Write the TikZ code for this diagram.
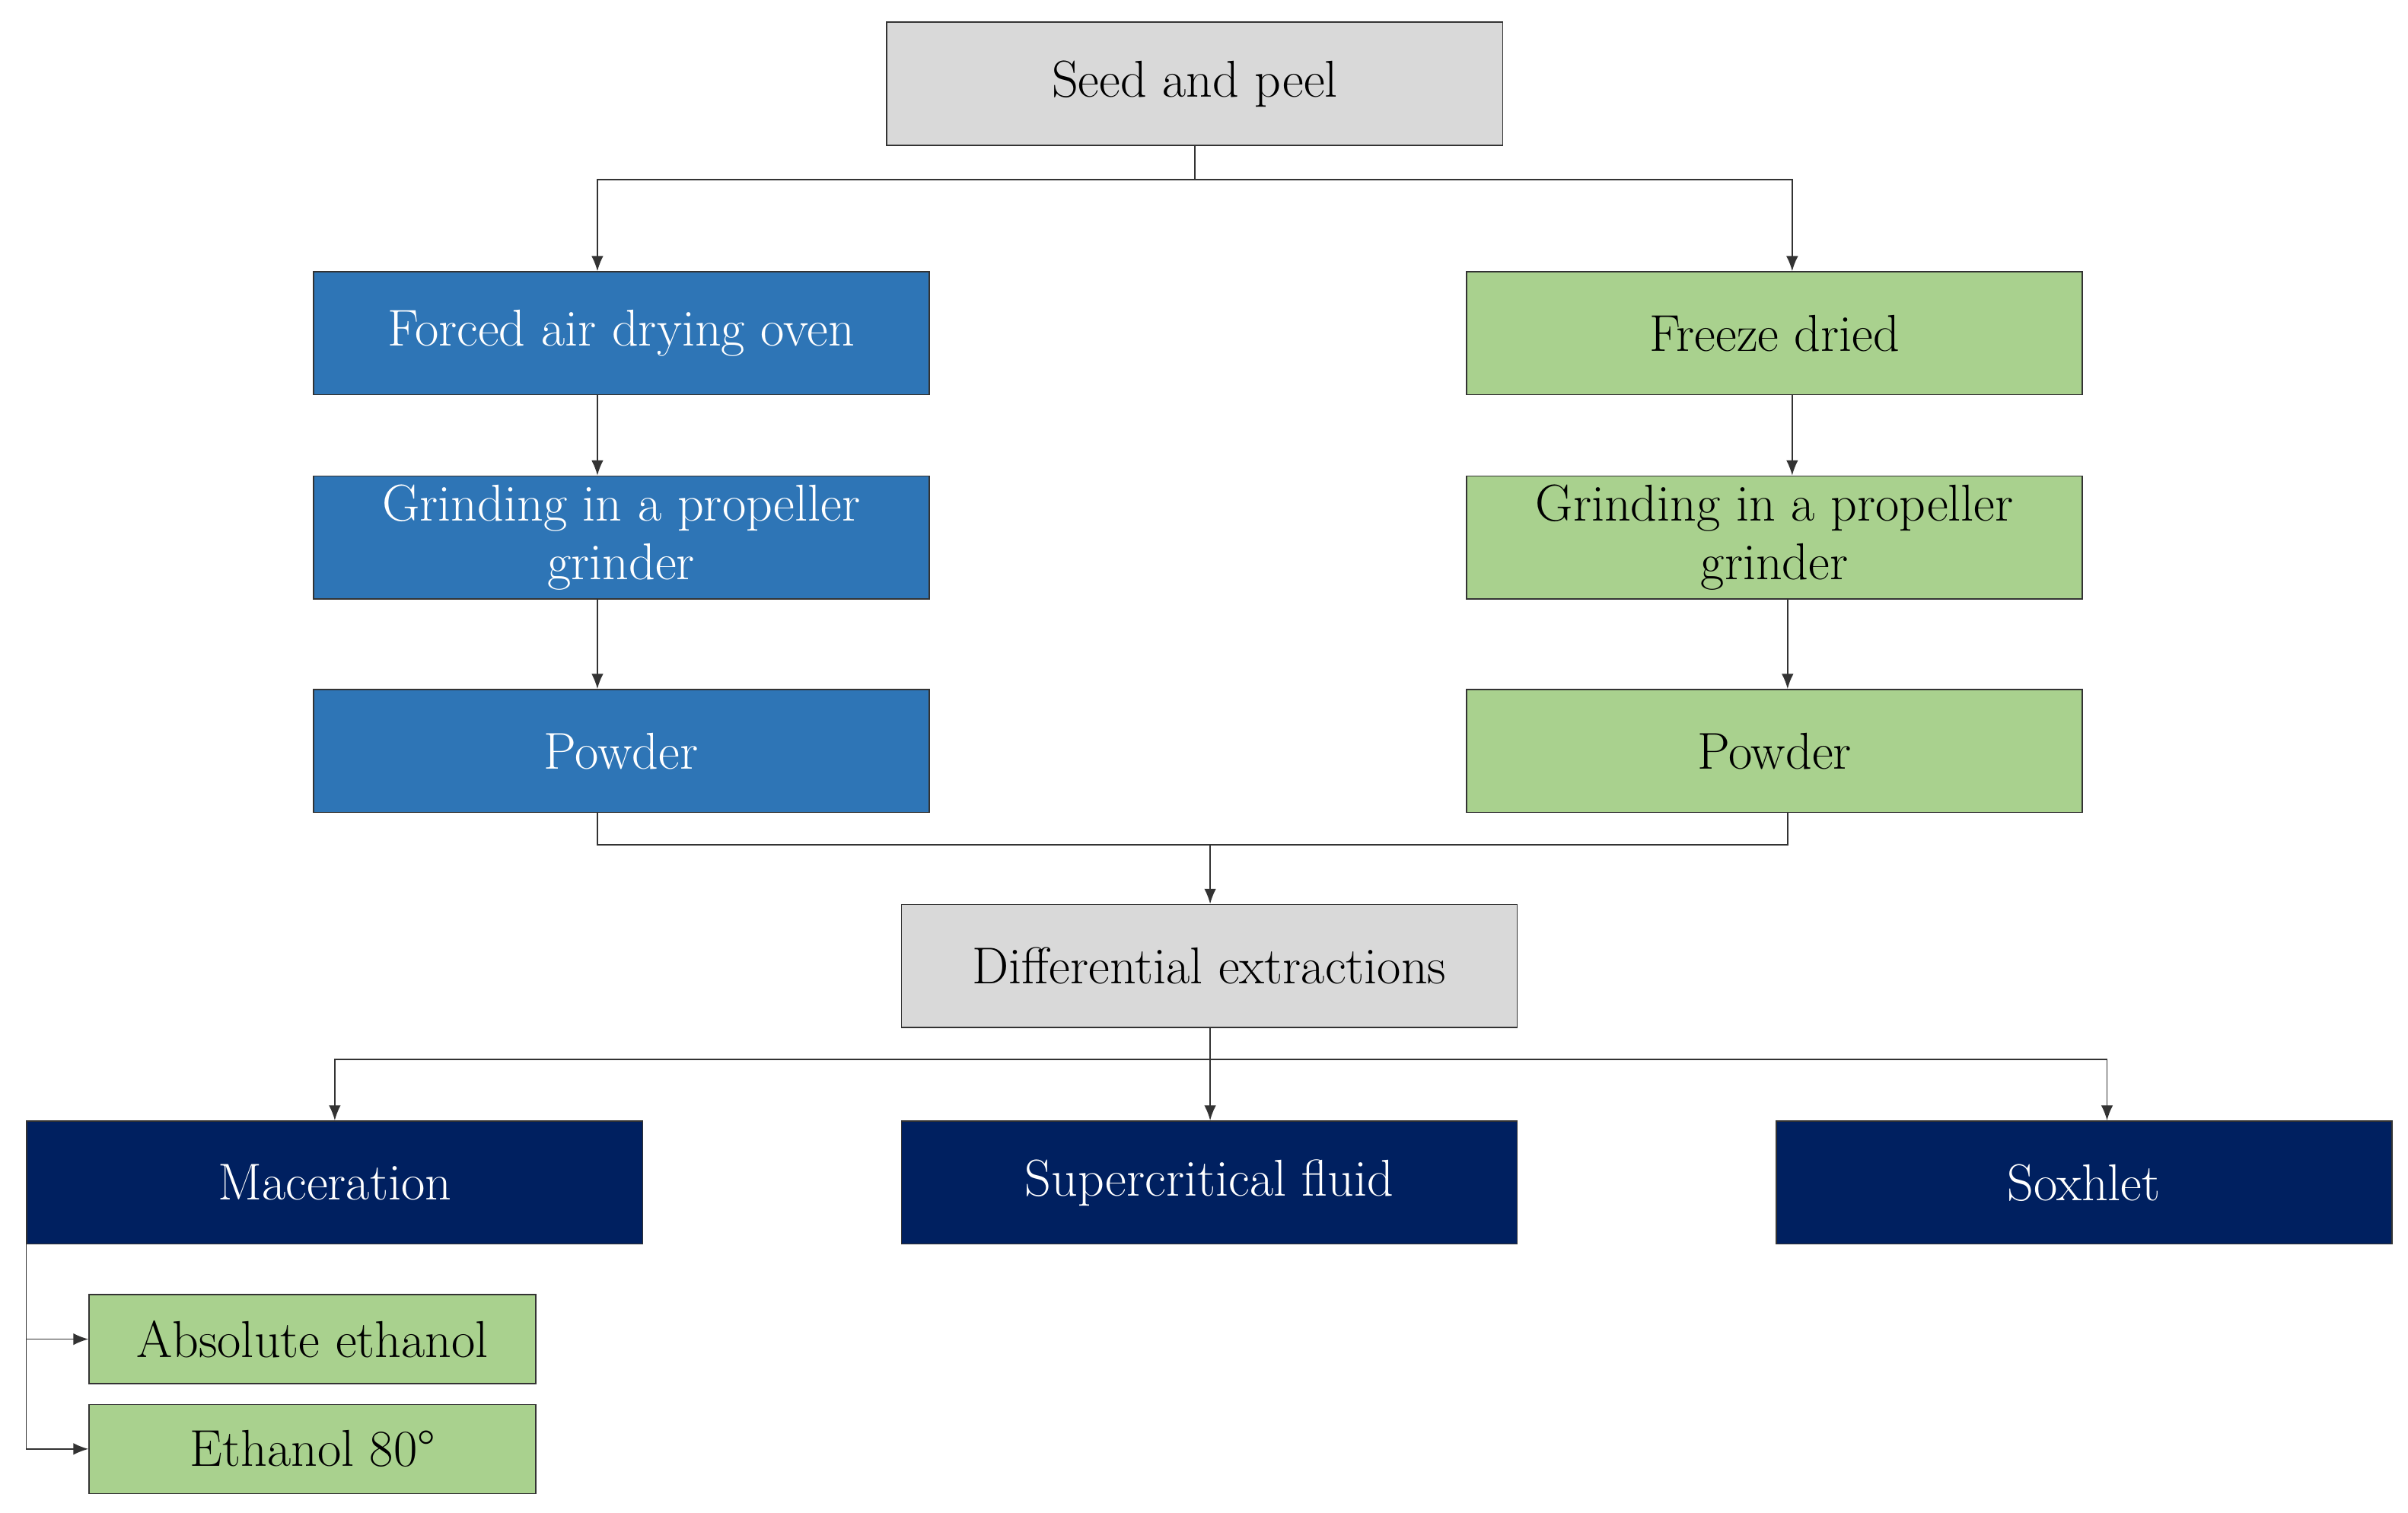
\documentclass[tikz,border=0pt]{standalone}
\usetikzlibrary{arrows.meta}
\definecolor{gr}{HTML}{D9D9D9}
\definecolor{bl}{HTML}{2E75B6}
\definecolor{gn}{HTML}{A9D18E}
\definecolor{nv}{HTML}{002060}
\begin{document}
\begin{tikzpicture}[x=0.05cm,y=-0.05cm,
  box/.style={draw=black!80,line width=1.2pt,minimum width=20.05cm,minimum height=4cm,inner sep=0pt,align=center,font=\fontsize{48}{54}\selectfont},
  sbox/.style={box,minimum width=14.55cm,minimum height=2.9cm},
  gray/.style={fill=gr,text=black},
  blue/.style={fill=bl,text=white},
  green/.style={fill=gn,text=black},
  navy/.style={fill=nv,text=white},
  con/.style={line width=1.2pt,draw=black!80},
  arr/.style={con,-{Latex[length=14pt,width=11pt]}}]
\useasboundingbox (0,0) rectangle (1568,985);
\node[box,gray] (seed) at (778,54.5) {Seed and peel};
\node[box,blue] (fa) at (404.5,217) {Forced air drying oven};
\node[box,blue] (gl) at (404.5,350) {Grinding in a propeller\\grinder};
\node[box,blue] (pl) at (404.5,489) {Powder};
\node[box,green] (fd) at (1155.5,217) {Freeze dried};
\node[box,green] (gr2) at (1155.5,350) {Grinding in a propeller\\grinder};
\node[box,green] (pr) at (1155.5,489) {Powder};
\node[box,gray] (de) at (787.5,629) {Differential extractions};
\node[box,navy] (ma) at (218,770) {Maceration};
\node[box,navy] (sf) at (787.5,770) {Supercritical fluid};
\node[box,navy] (so) at (1357,770) {Soxhlet};
\node[sbox,green] (ae) at (203.5,872) {Absolute ethanol};
\node[sbox,green] (e8) at (203.5,943.5) {Ethanol 80\textdegree};
\coordinate (j1) at (778,117);
\draw[con] (seed.south) -- (j1);
\draw[arr] (j1) -| (fa.north -| 389,0);
\draw[arr] (j1) -| (fd.north -| 1167,0);
\draw[arr] (fa.south -| 389,0) -- (gl.north -| 389,0);
\draw[arr] (gl.south -| 389,0) -- (pl.north -| 389,0);
\draw[arr] (fd.south -| 1167,0) -- (gr2.north -| 1167,0);
\draw[arr] (gr2.south -| 1164,0) -- (pr.north -| 1164,0);
\coordinate (j2) at (788,550);
\draw[con] (pl.south -| 389,0) |- (j2);
\draw[con] (pr.south -| 1164,0) |- (j2);
\draw[arr] (j2) -- (de.north -| 788,0);
\coordinate (j3) at (788,690);
\draw[con] (de.south -| 788,0) -- (j3);
\draw[arr] (j3) -| (ma.north);
\draw[arr] (j3) -- (sf.north -| 788,0);
\draw[arr] (j3) -| (so.north -| 1372,0);
\draw[arr] (ma.south west) |- (ae.west);
\draw[arr] (ma.south west) |- (e8.west);
\end{tikzpicture}
\end{document}
